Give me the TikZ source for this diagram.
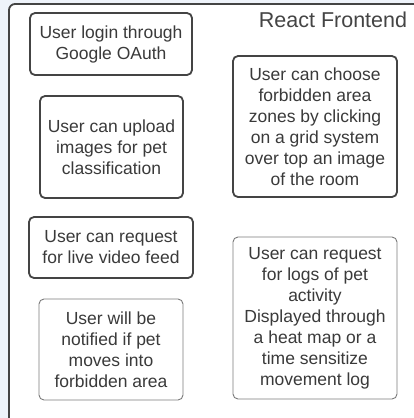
\documentclass[tikz,border=0pt]{standalone}
\usepackage{fontspec}
\setmainfont{Liberation Sans}
\usepackage{xcolor}
\usetikzlibrary{positioning}
\definecolor{Pale}{HTML}{EEF3FA}
\definecolor{Ink}{HTML}{3A3A3A}
\definecolor{Edge}{HTML}{444444}
\definecolor{Faint}{HTML}{7A7A7A}

\begin{document}
\begin{tikzpicture}[x=1pt,y=-1pt,every node/.style={font=\fontsize{17.5}{21}\selectfont,text=Ink,align=center,inner sep=0pt},
  featbox/.style={draw=Edge,line width=1.8pt,rounded corners=5pt,fill=white},
  softbox/.style={draw=Faint,line width=0.9pt,rounded corners=5pt,fill=white}]
\useasboundingbox (0,0) rectangle (414,418);
\fill[Pale] (0,0) rectangle (414,418);
\draw[Edge,line width=1.8pt,fill=white,rounded corners=6pt] (9,4) rectangle (440,440);
\node[font=\fontsize{21.5}{24}\selectfont,text=Edge] (title) at (333,20) {React Frontend};
\node[featbox,minimum width=162pt,minimum height=62pt] (login) at (111,44) {User login through\\Google OAuth};
\node[featbox,minimum width=143pt,minimum height=102pt] (upload) at (111.5,147) {User can upload\\images for pet\\classification};
\node[featbox,minimum width=164pt,minimum height=141pt] (zones) at (315,126.5) {User can choose\\forbidden area\\zones by clicking\\on a grid system\\over top an image\\of the room};
\node[featbox,minimum width=164pt,minimum height=61pt] (video) at (111,247.5) {User can request\\for live video feed};
\node[softbox,minimum width=144pt,minimum height=101pt] (notify) at (111,349.5) {User will be\\notified if pet\\moves into\\forbidden area};
\node[softbox,minimum width=164pt,minimum height=162pt] (logs) at (315,318) {User can request\\for logs of pet\\activity\\Displayed through\\a heat map or a\\time sensitize\\movement log};
\end{tikzpicture}
\end{document}
